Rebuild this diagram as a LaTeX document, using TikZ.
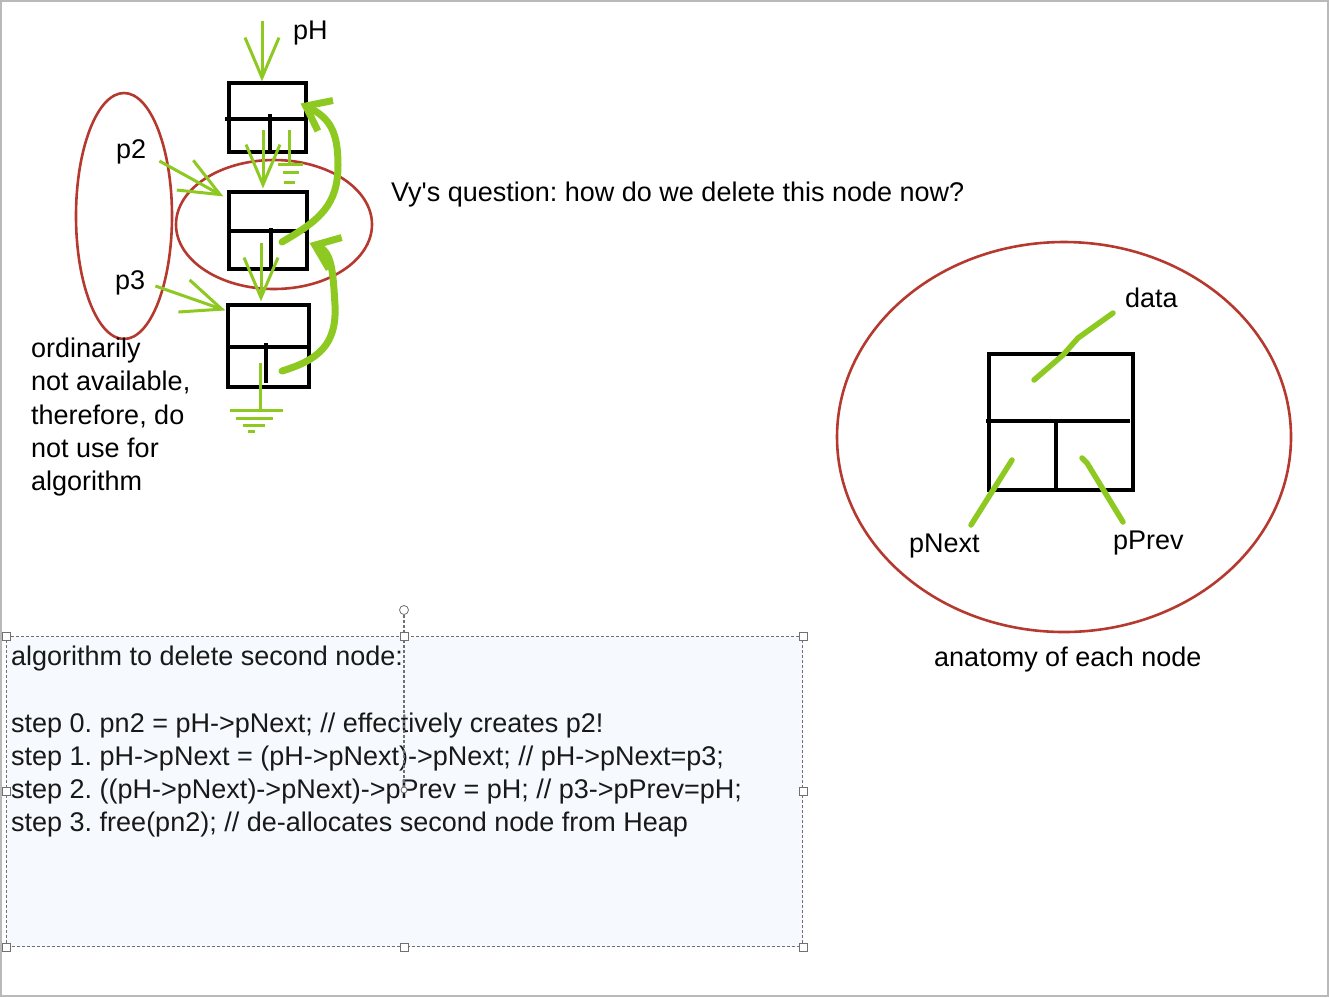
\documentclass[tikz,border=0pt]{standalone}
\usepackage{fontspec}
\setmainfont{Liberation Sans}[Ligatures=TeXOff]
\usetikzlibrary{arrows.meta,positioning}
\definecolor{inkred}{RGB}{181,57,47}
\definecolor{inkgreen}{RGB}{141,201,32}
\definecolor{boxfill}{RGB}{246,250,254}
\definecolor{handle}{RGB}{112,112,112}
\frenchspacing

\begin{document}
\begin{tikzpicture}[x=1pt,y=-1pt,
  every node/.style={font=\fontsize{27}{33.3}\selectfont, inner sep=0pt},
  cell/.style={draw, line width=3.2pt},
  ring/.style={draw=inkred, line width=2.6pt},
  ptr/.style={draw=inkgreen, line width=3pt, -{Straight Barb[length=40pt,width=34pt]}},
  fatptr/.style={draw=inkgreen, line width=7pt, line cap=round, line join=round, -{Straight Barb[length=22pt,width=34pt]}},
  lead/.style={draw=inkgreen, line width=5.5pt, line cap=round, line join=round},
  ground/.style={draw=inkgreen, line width=3pt},
  grip/.style={draw=handle, fill=white, line width=0.8pt, minimum size=8pt}]

\useasboundingbox (0,0) rectangle (1329,997);
\draw[gray!55, line width=2pt] (1,1) rectangle (1328,996);

% the three list nodes
\node[cell, minimum width=77pt, minimum height=69pt] (n1) at (267.5,117.5) {};
\node[cell, minimum width=78pt, minimum height=77pt] (n2) at (268,230.5) {};
\node[cell, minimum width=81pt, minimum height=82pt] (n3) at (268.5,346) {};
\draw[line width=3.2pt] (225,119) -- (306,119) (270,114) -- (270,152);
\draw[line width=3.2pt] (227,231) -- (307,231) (271,228) -- (271,269);
\draw[line width=3.2pt] (228,347) -- (310,347) (266,343) -- (266,383);

% rings
\draw[ring] (124,216) ellipse [x radius=48, y radius=123];
\draw[ring] (274,224.5) ellipse [x radius=98, y radius=64.5];

% labels
\node[anchor=base west] (ph) at (293,39) {pH};
\node[anchor=base west] (p2) at (116,158) {p2};
\node[anchor=base west] (p3) at (115,289) {p3};
\node[anchor=north west, align=left] (note) at (31,337.7)
  {ordinarily\\not available,\\therefore, do\\not use for\\algorithm};
\node[anchor=base west] (vy) at (391,201) {Vy's question: how do we delete this node now?};

% pointers
\draw[ptr] ([shift={(-5.5,-60)}]n1.north) -- ([xshift=-5.5pt]n1.north);
\draw[ptr] ([shift={(-4.5,12.5)}]n1.center) -- ([shift={(-5,-2)}]n2.north);
\draw[ptr] ([shift={(-7,12.5)}]n2.center) -- ([shift={(-7.5,-2)}]n3.north);
\draw[ptr] ([shift={(13,3)}]p2.base east) -- ([shift={(-4,6)}]n2.north west);
\draw[ptr] ([shift={(10,-3)}]p3.base east) -- ([shift={(-1,7)}]n3.north west);

% null ends
\draw[ground] (289,130) -- (289,164) (278,164) -- (303,164) (283,172) -- (299,172) (284,182) -- (295,182);
\draw[ground] (260,363) -- (260,410) (230,410) -- (283,410) (236,418) -- (273,418) (243,425) -- (265,425) (248,431) -- (255,431);

% re-linking strokes
\draw[fatptr] ([shift={(14,11.5)}]n2.center) .. controls (320,220) and (338,205) .. (338,165)
  .. controls (338,132) and (330,118) .. ([shift={(-7,-14)}]n1.east);
\draw[fatptr] ([shift={(13.5,25)}]n3.center) .. controls (318,360) and (337,345) .. (335,305)
  .. controls (333,272) and (332,252) .. ([shift={(1,12.5)}]n2.east);

% anatomy of a node
\draw[ring] (1064,437) ellipse [x radius=227, y radius=195];
\node[cell, minimum width=144pt, minimum height=136pt] (anat) at (1061,422) {};
\draw[line width=3.2pt] (986,421) -- (1130,421) (1056,420) -- (1056,492);
\node[anchor=base west] (data) at (1125,307) {data};
\node[anchor=base west] (pnext) at (909,552) {pNext};
\node[anchor=base west] (pprev) at (1113,549) {pPrev};
\node[anchor=base west] (anatomy) at (934,666) {anatomy of each node};
\draw[lead] (1034,380) -- (1063,355) -- (1078,338) -- ([shift={(-12,6)}]data.base west);
\draw[lead] (1012,460) -- ([shift={(62,-27)}]pnext.base west);
\draw[lead] (1082,458) -- (1087,463) -- ([shift={(10,-27)}]pprev.base west);

% algorithm text box
\node[draw=handle, dash pattern=on 3pt off 2pt, line width=1.2pt, fill=boxfill,
  minimum width=796pt, minimum height=310pt, anchor=north west] (algo) at (6,636) {};
\node[anchor=north west, align=left, text=black!90] (steps) at (11,645.7)
  {algorithm to delete second node:\\[33.3pt]
   step 0. pn2 = pH->pNext; // effectively creates p2!\\
   step 1. pH->pNext = (pH->pNext)->pNext; // pH->pNext=p3;\\
   step 2. ((pH->pNext)->pNext)->pPrev = pH; // p3->pPrev=pH;\\
   step 3. free(pn2); // de-allocates second node from Heap};
\node[draw=handle, fill=white, circle, line width=0.8pt, minimum size=9pt] (rot) at (404,610) {};
\node[draw=handle, fill=white, circle, line width=0.8pt, minimum size=6pt] (pivot) at (404,790) {};
\draw[handle, dash pattern=on 3pt off 2pt, line width=1.2pt] (rot) -- (pivot);
\foreach \p in {north west,north,north east,west,east,south west,south,south east}
  \node[grip] at (algo.\p) {};
\end{tikzpicture}
\end{document}
